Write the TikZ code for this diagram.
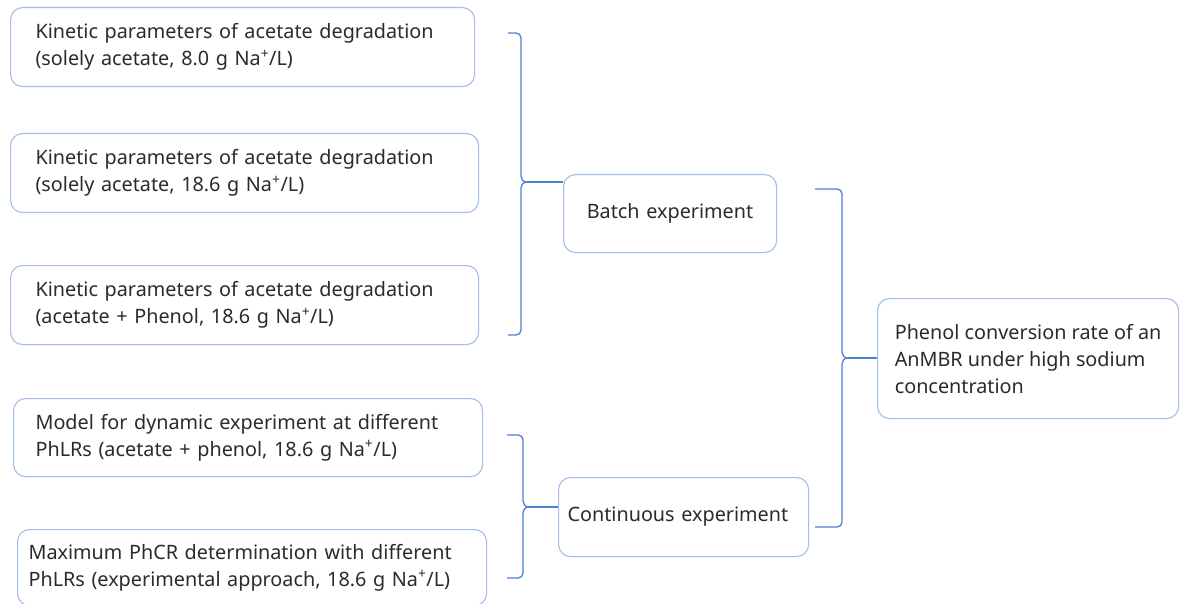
\documentclass[tikz,border=0pt]{standalone}
\usepackage{fontspec}
\setmainfont{Noto Sans}
\definecolor{boxline}{HTML}{A3BEE8}
\definecolor{braceline}{HTML}{4F80D2}
\definecolor{txt}{HTML}{2B2B2B}
\begin{document}
\begin{tikzpicture}[x=1pt,y=-1pt,
  box/.style={draw=boxline, line width=1.1pt, rounded corners=12pt, fill=white,
    anchor=north west, align=left, text=txt, inner ysep=0pt,
    font=\fontsize{19.8}{27}\selectfont},
  brace/.style={draw=braceline, line width=1.3pt}]
\useasboundingbox (0,0) rectangle (1180,604);
\fill[white] (0,0) rectangle (1180,604);
% left boxes
\node[box, inner xsep=25pt, text width=414pt, minimum height=79pt] (k1) at (10,7)
  {Kinetic parameters of acetate degradation\\(solely acetate, 8.0 g Na\textsuperscript{+}/L)};
\node[box, inner xsep=25pt, text width=418pt, minimum height=79pt] (k2) at (10,133)
  {Kinetic parameters of acetate degradation\\(solely acetate, 18.6 g Na\textsuperscript{+}/L)};
\node[box, inner xsep=25pt, text width=418pt, minimum height=79pt] (k3) at (10,265)
  {Kinetic parameters of acetate degradation\\(acetate + Phenol, 18.6 g Na\textsuperscript{+}/L)};
\node[box, inner xsep=22pt, text width=425pt, minimum height=78pt] (m1) at (13,398)
  {Model for dynamic experiment at different\\PhLRs (acetate + phenol, 18.6 g Na\textsuperscript{+}/L)};
\node[box, inner xsep=11pt, text width=447pt, minimum height=76pt] (m2) at (17,529)
  {Maximum PhCR determination with different\\PhLRs (experimental approach, 18.6 g Na\textsuperscript{+}/L)};
% middle boxes
\node[box, align=center, inner xsep=0pt, text width=213pt, minimum height=78pt] (batch) at (563,174)
  {Batch experiment};
\node[box, inner xsep=9pt, text width=232pt, minimum height=79pt] (cont) at (558,477)
  {Continuous experiment};
% right box
\node[box, inner xsep=12pt, minimum width=301pt, minimum height=120pt] (goal) at (877,298)
  {Phenol conversion rate of an\\AnMBR under high sodium\\concentration};
% brace coordinates
\coordinate (b1t) at (508,33);
\coordinate (b1b) at (508,335);
\coordinate (b1m) at (527,182);
\coordinate (b2t) at (507,435);
\coordinate (b2b) at (507,578);
\coordinate (b2m) at (529,507);
\coordinate (b3t) at (815,189);
\coordinate (b3b) at (815,527);
\coordinate (b3m) at (848,358);
% brace 1: vertical at x=521
\draw[brace] (b1t) -- (516,33) .. controls (519,33) and (521,35) .. (521,38)
  -- (521,176) .. controls (521,179) and (523,182) .. (b1m)
  .. controls (523,182) and (521,185) .. (521,188)
  -- (521,330) .. controls (521,333) and (519,335) .. (516,335) -- (b1b);
\draw[brace] (b1m) -- (batch.west |- b1m);
% brace 2: vertical at x=523
\draw[brace] (b2t) -- (518,435) .. controls (521,435) and (523,437) .. (523,440)
  -- (523,501) .. controls (523,504) and (525,507) .. (b2m)
  .. controls (525,507) and (523,510) .. (523,513)
  -- (523,573) .. controls (523,576) and (521,578) .. (518,578) -- (b2b);
\draw[brace] (b2m) -- (cont.west |- b2m);
% brace 3: vertical at x=842
\draw[brace] (b3t) -- (837,189) .. controls (840,189) and (842,191) .. (842,194)
  -- (842,352) .. controls (842,355) and (844,358) .. (b3m)
  .. controls (844,358) and (842,361) .. (842,364)
  -- (842,522) .. controls (842,525) and (840,527) .. (837,527) -- (b3b);
\draw[brace] (b3m) -- (goal.west |- b3m);
\end{tikzpicture}
\end{document}
